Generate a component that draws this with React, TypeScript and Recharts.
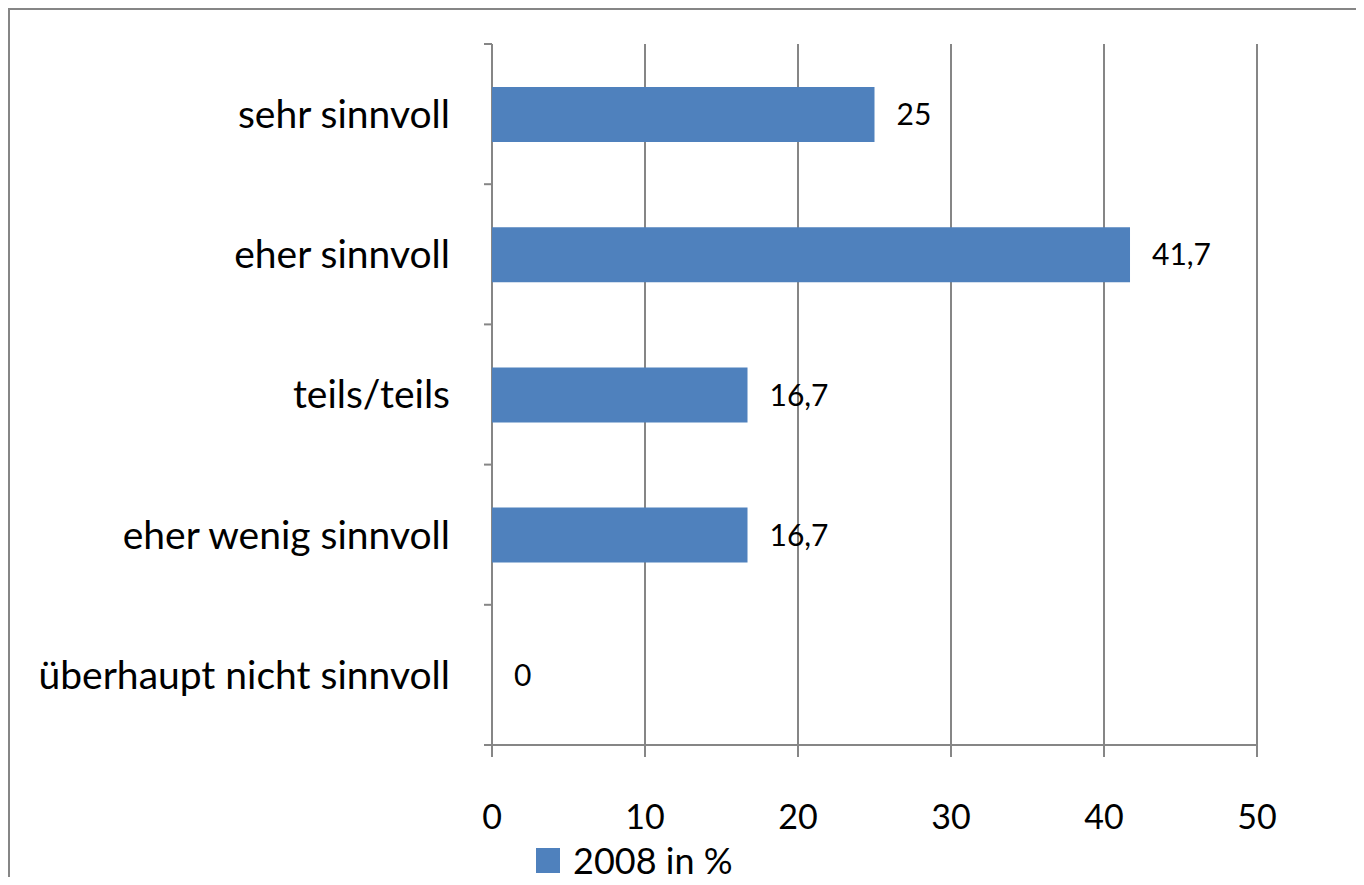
import React from 'react';
import { BarChart, Bar, XAxis, YAxis, CartesianGrid, Legend, LabelList } from 'recharts';

const categories = ['sehr sinnvoll', 'eher sinnvoll', 'teils/teils', 'eher wenig sinnvoll', 'überhaupt nicht sinnvoll'];
const values2008 = [25, 41.7, 16.7, 16.7, 0];
const xTicks = [0, 10, 20, 30, 40, 50];

const data = categories.map((name, i) => ({ name, v2008: values2008[i] }));

const FONT = 'Lato, "Open Sans", sans-serif';
const GRAY = '#868686';
const BLUE = '#4F81BD';
const LABEL_GAP = 42;

const fmt = (v: number) => String(v).replace('.', ',');

// category label plus a tick mark on the band boundary (Excel style)
const CatTick = (props: any) => {
  const { x, y, payload, index, visibleTicksCount, height } = props;
  const band = Number(height) / visibleTicksCount;
  const ax = x + LABEL_GAP;
  const ok = Number.isFinite(band) && band > 0;
  return (
    <g>
      <text x={x} y={y} dy='0.355em' textAnchor='end' fill='#000' fontSize={39} fontFamily={FONT}>
        {payload.value}
      </text>
      {ok && <line x1={ax - 8} x2={ax} y1={y - band / 2} y2={y - band / 2} stroke={GRAY} strokeWidth={2} />}
      {ok && index === visibleTicksCount - 1 && (
        <line x1={ax - 8} x2={ax} y1={y + band / 2} y2={y + band / 2} stroke={GRAY} strokeWidth={2} />
      )}
    </g>
  );
};

const LegendBox = () => (
  <div style={{ display: 'flex', alignItems: 'center', height: 30, fontFamily: FONT, fontSize: 36, color: '#000' }}>
    <span style={{ display: 'inline-block', width: 24, height: 25, background: BLUE, marginRight: 13 }} />
    <span>2008 in %</span>
  </div>
);

const App: React.FC = () => {
  return (
    <div style={{ width: 1346, height: 867, borderTop: `2px solid ${GRAY}`, borderLeft: `2px solid ${GRAY}`, background: '#fff' }}>
      <BarChart
        width={1346}
        height={867}
        data={data}
        layout='vertical'
        margin={{ top: 34, right: 99, left: 0, bottom: 2 }}
      >
        <CartesianGrid horizontal={false} stroke={GRAY} strokeWidth={2} />
        <XAxis
          type='number'
          domain={[0, 50]}
          ticks={xTicks}
          height={100}
          stroke={GRAY}
          strokeWidth={2}
          tickSize={12}
          tickMargin={48}
          tick={{ fill: '#000', fontSize: 34, fontFamily: FONT }}
        />
        <YAxis
          type='category'
          dataKey='name'
          width={482}
          axisLine={false}
          tickLine={false}
          tickSize={0}
          tickMargin={LABEL_GAP}
          interval={0}
          tick={<CatTick />}
        />
        <Legend
          verticalAlign='bottom'
          align='left'
          wrapperStyle={{ left: 526 }}
          content={() => <LegendBox />}
        />
        <Bar dataKey='v2008' fill={BLUE} barSize={55} minPointSize={0.01} isAnimationActive={false}>
          <LabelList
            dataKey='v2008'
            position='right'
            offset={22}
            formatter={(v: any) => fmt(v)}
            style={{ fill: '#000', fontSize: 30, fontFamily: FONT }}
          />
        </Bar>
      </BarChart>
    </div>
  );
};

export default App;
